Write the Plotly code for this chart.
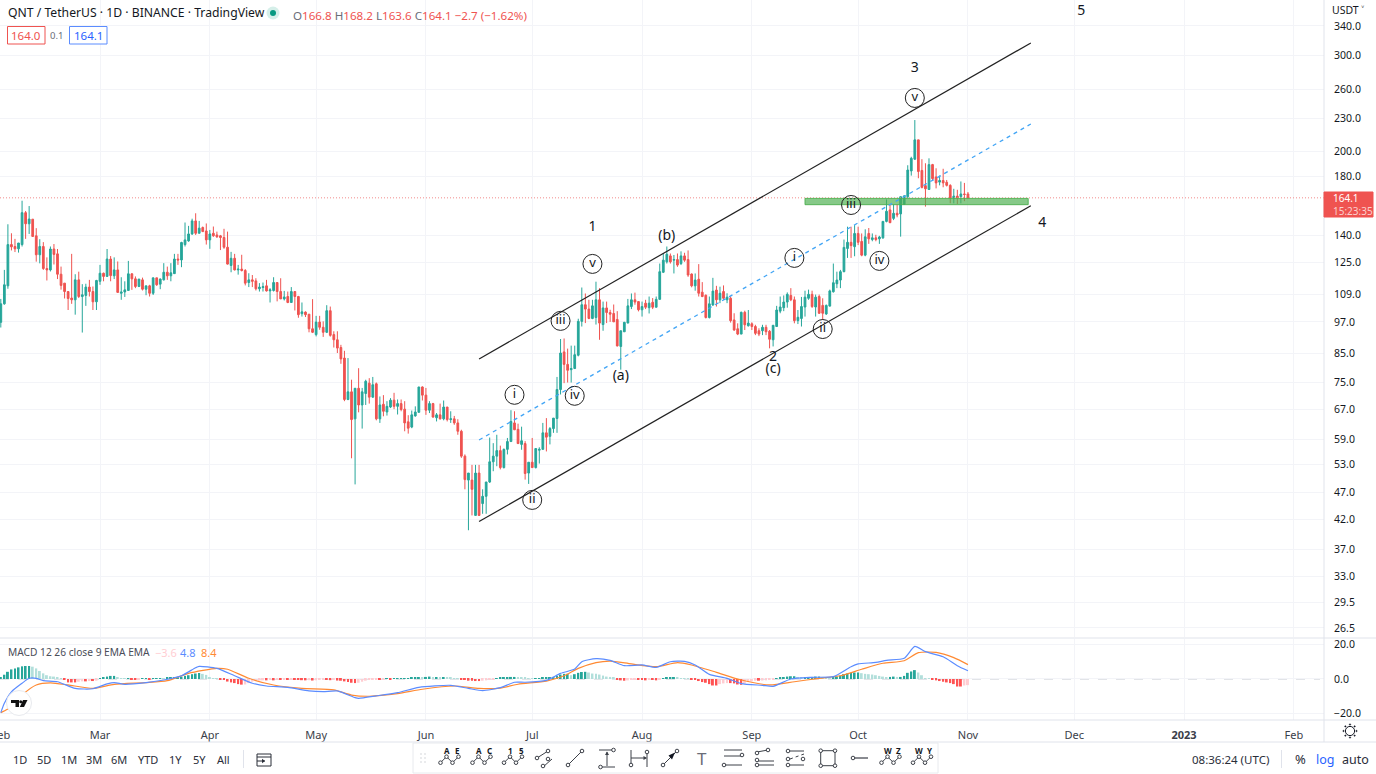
import pandas as pd
import plotly.graph_objects as go

opens = [
 96.8,104.7,113.0,134.6,133.5,132.2,134.6,154.1,147.0,149.9,139.7,128.9,133.5,121.6,120.9,132.1,129.4,118.7,114.3,110.3,107.3,106.5,115.9,108.0,108.5,112.4,110.3,105.6,
 115.2,119.2,117.6,126.6,117.9,120.9,109.5,110.1,110.8,118.9,116.4,112.7,115.9,111.4,113.0,109.5,116.9,113.8,115.9,119.7,117.9,119.0,126.6,126.1,134.6,136.7,140.8,148.8,141.2,144.7,142.6,
 137.3,141.2,140.2,139.7,138.7,133.1,123.2,127.0,120.9,121.3,120.6,114.6,115.9,115.4,111.6,112.2,113.0,110.6,110.8,114.6,110.3,106.9,108.0,105.3,110.3,108.0,100.4,101.1,100.2,94.2,
 91.9,96.9,94.8,92.8,101.7,91.9,89.9,87.0,83.2,69.8,72.1,64.3,73.2,68.2,71.6,74.8,70.5,74.6,64.3,68.4,66.2,67.6,69.6,67.8,68.6,67.0,63.5,62.1,65.1,66.1,73.6,
 71.1,66.7,68.6,64.6,65.4,64.3,67.6,64.1,64.3,63.2,61.0,54.9,49.6,49.6,42.7,51.1,44.9,46.3,49.2,53.6,54.9,56.2,52.3,56.5,58.4,63.2,61.5,57.7,57.9,51.1,
 53.5,52.3,56.3,56.5,60.6,59.7,61.7,64.4,72.8,85.4,81.0,79.2,79.6,84.2,97.2,104.3,102.4,98.4,98.8,106.5,95.9,102.9,100.9,100.5,98.0,87.4,93.0,96.5,103.5,106.5,105.7,
 102.1,105.0,103.0,105.4,103.2,106.7,119.7,125.1,128.3,126.0,126.3,124.2,128.3,126.3,118.8,113.0,116.2,110.0,108.6,98.8,104.2,111.0,106.5,110.3,106.5,107.2,97.8,94.2,92.1,101.0,95.4,
 96.2,95.1,93.4,93.4,94.8,93.2,89.9,95.1,101.5,103.0,105.5,108.5,106.5,97.5,98.4,103.3,107.2,109.0,103.3,108.0,104.0,100.3,103.7,110.2,114.0,115.8,120.0,132.4,135.9,133.4,
 141.1,136.4,128.7,141.1,137.5,138.5,137.9,138.5,148.5,155.9,150.4,153.7,153.3,159.6,164.9,183.9,193.3,209.8,184.3,172.8,170.0,188.9,179.3,175.4,176.6,175.3,173.0,163.9,165.3,164.9,166.8,
 166.8]
highs = [
 106.9,120.9,146.7,141.2,137.9,135.5,162.1,155.2,158.5,149.9,144.3,137.7,136.0,127.5,133.5,134.9,132.1,122.6,114.3,110.3,129.4,118.7,120.0,113.8,114.0,115.9,112.7,115.9,
 123.5,119.5,132.1,128.2,127.5,125.3,117.2,115.2,125.6,119.2,117.6,116.3,117.0,113.0,113.5,116.9,116.9,116.6,124.4,122.6,124.4,129.4,129.4,136.2,147.8,145.7,150.2,153.7,148.8,145.3,147.2,
 143.2,145.3,142.2,140.2,143.9,142.2,130.5,129.4,123.5,128.9,121.3,119.2,118.3,116.7,114.3,114.6,115.9,111.9,117.2,114.6,116.7,110.6,110.3,112.4,110.3,108.3,105.3,101.4,100.2,106.8,
 99.5,99.5,97.2,104.1,103.5,93.2,93.2,88.0,85.8,83.2,75.9,73.2,79.7,73.3,75.9,76.4,76.8,75.0,70.7,71.1,69.3,70.2,71.8,69.8,69.8,69.3,65.3,66.6,67.8,73.6,73.8,
 73.3,69.3,68.8,65.9,68.6,69.5,67.6,66.4,65.1,64.2,61.4,55.3,51.1,52.9,52.9,52.9,47.7,49.2,59.4,58.0,60.1,57.4,56.7,59.3,66.7,66.4,63.0,62.2,58.5,53.5,
 59.3,56.7,57.0,63.2,64.5,62.1,64.5,76.8,90.2,90.4,86.6,87.7,87.7,98.3,112.2,109.4,106.5,106.5,115.0,111.9,105.7,105.7,102.1,104.4,101.5,93.4,97.0,106.9,109.4,109.8,105.7,
 105.7,106.5,108.0,107.3,108.0,124.2,129.6,133.5,129.6,128.8,129.6,130.8,130.0,131.3,119.1,119.1,123.9,114.8,108.9,108.0,116.9,113.0,112.6,113.2,109.5,108.0,100.6,96.4,101.3,101.7,102.0,
 96.8,95.8,94.4,95.8,95.8,93.7,95.6,103.8,108.0,108.5,109.9,111.9,108.0,102.0,107.8,110.7,111.2,110.7,108.9,108.9,107.2,104.4,111.2,124.2,120.0,120.9,137.5,145.2,145.2,146.2,
 145.2,141.1,143.6,144.4,141.1,140.3,139.7,148.5,163.0,159.6,159.6,159.6,164.9,166.0,188.4,195.3,228.2,209.8,193.3,190.0,194.0,189.5,186.0,180.3,185.6,177.0,173.8,170.5,169.8,175.9,174.8,
 168.2]
lows = [
 94.7,104.3,111.6,131.3,130.4,130.1,133.5,137.9,140.8,139.3,125.2,124.3,120.9,115.6,120.1,123.7,116.3,111.2,107.1,102.0,104.7,100.0,107.3,92.7,103.8,108.0,102.0,102.0,
 113.5,115.2,117.6,115.2,116.3,109.9,106.5,107.8,110.8,111.1,111.9,112.4,110.8,108.6,108.0,108.7,113.0,111.4,115.6,115.9,115.2,119.0,123.5,122.3,133.5,136.2,140.2,140.2,141.2,142.2,134.6,
 132.2,139.1,138.5,131.5,132.2,123.7,119.7,120.6,118.5,120.1,113.2,112.4,112.4,110.8,110.3,110.3,110.3,105.3,110.3,105.8,106.9,106.2,105.0,105.3,101.8,98.7,99.2,99.0,92.8,92.5,
 91.2,93.8,91.0,92.5,91.1,87.0,85.0,81.2,69.3,69.6,54.4,48.7,66.1,61.7,68.2,68.6,70.3,63.9,63.2,65.0,65.2,67.3,67.0,65.5,66.4,61.0,60.4,61.8,64.9,66.1,69.5,
 65.4,65.9,64.6,63.6,64.1,63.9,63.6,63.2,62.7,60.1,54.5,47.7,40.1,42.7,42.6,42.6,43.0,43.0,49.0,51.5,52.6,51.9,52.1,55.3,58.4,61.3,57.8,56.4,49.7,48.8,
 52.3,52.1,53.2,56.5,56.0,57.7,60.6,60.6,71.3,74.8,75.0,75.0,79.4,83.8,95.1,96.5,98.1,98.1,95.9,89.9,93.4,96.5,97.0,97.0,87.4,79.2,93.0,96.5,102.4,104.3,101.4,
 99.2,102.4,100.5,102.4,103.2,106.7,119.3,124.2,124.2,119.1,122.5,123.4,125.1,117.4,112.3,110.7,108.0,107.7,98.4,98.4,103.8,103.5,105.0,106.5,105.0,96.7,93.4,91.7,92.1,93.7,95.1,
 93.7,91.7,91.3,91.7,91.7,86.7,87.4,95.1,100.6,101.5,103.0,105.9,96.4,96.1,95.1,99.2,106.5,102.9,99.2,100.3,97.8,99.9,103.5,109.8,111.9,111.9,119.7,127.2,127.2,128.1,
 134.3,128.1,128.1,135.0,136.5,136.5,135.0,137.9,147.9,147.4,149.3,151.1,139.2,159.6,163.9,180.3,192.7,178.3,170.8,158.1,170.0,176.8,170.8,173.0,171.6,172.2,160.4,160.3,159.9,160.3,161.8,
 163.6]
closes = [
 104.7,113.5,134.6,133.3,132.2,135.5,154.1,147.0,150.0,139.3,128.9,133.5,121.6,120.9,132.1,129.1,118.7,113.2,110.3,107.1,106.5,115.9,108.0,108.8,112.4,110.3,105.6,115.6,
 119.2,117.6,126.6,118.0,120.9,109.9,110.1,111.1,118.9,116.4,112.7,116.3,111.4,113.0,109.5,116.9,113.5,116.3,119.7,117.9,119.4,126.6,126.1,135.8,137.3,140.8,148.8,141.2,144.3,142.2,137.3,
 140.8,139.7,139.1,138.7,133.1,123.9,127.0,120.9,121.3,120.6,114.3,115.9,115.2,111.6,112.4,112.6,110.6,111.1,114.6,110.3,106.9,107.8,105.3,110.3,108.0,100.0,101.2,100.0,94.2,92.8,
 96.9,94.8,92.8,101.7,91.6,89.9,86.8,82.9,69.8,72.1,64.1,73.2,68.2,72.1,75.4,70.5,74.3,64.3,68.2,66.4,67.8,69.6,67.8,68.6,66.9,63.2,61.8,65.4,66.2,73.6,71.1,
 66.7,68.6,64.8,65.4,64.3,67.6,64.1,64.3,63.2,61.0,54.9,49.7,51.1,47.7,51.1,42.7,46.3,49.2,53.6,54.9,56.2,52.3,56.5,58.4,63.6,61.4,57.9,58.6,51.0,53.5,
 52.3,56.7,56.5,60.6,59.5,61.7,64.5,72.8,85.0,81.0,79.0,79.6,84.4,97.2,104.3,102.4,98.4,103.8,106.5,96.5,102.9,100.9,100.2,97.0,87.6,93.4,96.8,103.8,106.5,105.5,102.1,
 103.5,103.2,105.0,103.2,106.7,120.0,126.0,129.2,125.1,126.3,123.4,128.3,126.0,118.3,113.0,115.8,109.5,108.0,98.8,104.7,110.5,106.5,109.5,107.2,107.7,97.5,93.7,92.1,101.0,95.8,96.5,
 95.1,92.4,92.1,94.8,93.0,90.1,95.6,102.0,103.3,105.5,109.0,106.5,97.5,98.9,103.5,107.7,109.0,103.5,107.7,100.6,100.6,104.0,110.6,114.5,115.8,120.0,133.0,135.9,134.0,141.1,
 135.9,128.7,139.1,137.9,138.5,137.5,139.0,148.5,155.0,147.7,153.7,152.6,164.9,165.4,184.6,194.0,209.8,183.5,171.5,170.5,188.9,178.0,174.8,176.6,174.8,173.0,163.9,165.3,163.9,166.8,166.5,
 164.1]
hist = [
 1.0,2.5,4.2,5.6,6.2,6.8,7.4,7.6,7.6,7.2,6.2,4.7,3.3,2.2,1.6,1.4,1.0,0.4,-0.3,-2.0,-2.0,-2.0,-1.6,-1.4,-1.4,-1.2,-1.2,-1.0,
 0.2,0.8,1.4,1.8,1.8,1.0,0.4,0.1,0.1,-0.1,-0.2,-0.1,0.1,0.2,-0.1,0.1,0.3,0.5,0.4,0.6,0.8,1.0,1.2,1.4,1.8,2.2,2.8,3.2,3.5,3.0,2.4,
 1.0,0.5,0.1,-0.2,-0.6,-1.5,-2.0,-2.4,-3.0,-3.3,-3.2,-2.4,-1.6,-1.2,-0.9,-0.8,-0.8,-0.6,-0.8,-0.6,-0.6,-0.5,-0.5,-0.4,-0.5,-0.6,-0.7,-0.8,-0.7,-0.9,
 -0.8,-0.6,-0.5,-0.5,-0.7,-0.6,-0.9,-1.0,-1.4,-1.8,-2.2,-2.4,-2.2,-1.6,-1.0,-0.6,-0.5,-0.4,-0.6,-0.4,0.2,-0.2,0.1,0.2,0.2,0.3,0.5,0.6,0.7,0.9,0.8,
 1.2,1.4,1.0,1.0,0.8,0.8,0.7,0.6,0.5,0.1,-0.3,-0.6,-1.0,-1.0,-1.2,-1.2,-1.0,-0.8,-0.5,-0.2,0.4,0.7,1.0,1.1,1.2,1.2,1.0,0.9,0.7,0.3,
 0.2,0.4,0.5,0.7,0.8,1.0,1.2,1.8,2.6,3.0,3.0,2.2,2.8,3.6,4.1,4.2,3.8,3.2,3.0,2.6,2.0,1.4,1.2,0.6,-0.2,-0.8,-1.0,-0.8,-0.6,-0.4,-0.4,
 -0.6,-0.8,-0.6,-0.6,-0.8,-0.2,0.4,0.8,1.0,1.0,0.6,0.5,0.2,0.1,-0.2,-0.6,-1.2,-1.8,-2.2,-3.0,-3.8,-3.8,-3.0,-2.6,-2.4,-2.4,-2.6,-3.2,-3.4,-2.8,-1.6,
 -1.4,-1.0,-1.0,-0.9,-0.8,-0.6,-0.4,0.2,0.6,1.0,1.4,1.6,1.6,1.2,1.0,1.0,1.0,1.2,1.4,1.4,1.2,1.0,0.8,1.0,1.4,2.0,2.8,3.2,3.6,3.8,
 3.8,3.4,3.0,2.8,2.6,2.2,1.8,1.4,1.0,1.2,1.4,1.2,1.2,1.8,3.6,4.4,5.2,3.8,2.2,0.2,0.1,-0.4,-0.8,-1.2,-1.6,-2.0,-2.4,-3.0,-4.4,-4.4,-3.8,
 -3.6]

macd_dates = ["2022-02-01","2022-02-02","2022-02-04","2022-02-07","2022-02-09","2022-02-11","2022-02-13","2022-02-17","2022-02-22","2022-02-27","2022-03-03","2022-03-05","2022-03-08","2022-03-14","2022-03-19","2022-03-24","2022-03-28","2022-03-29","2022-04-03","2022-04-08","2022-04-13","2022-04-17","2022-04-23","2022-04-29","2022-05-03","2022-05-07","2022-05-12","2022-05-13","2022-05-18","2022-05-24","2022-05-30","2022-06-08","2022-06-13","2022-06-17","2022-06-22","2022-06-26","2022-06-29","2022-07-05","2022-07-09","2022-07-13","2022-07-15","2022-07-19","2022-07-23","2022-07-27","2022-08-01","2022-08-05","2022-08-09","2022-08-13","2022-08-16","2022-08-20","2022-08-25","2022-08-29","2022-09-04","2022-09-07","2022-09-12","2022-09-18","2022-09-24","2022-09-29","2022-10-01","2022-10-06","2022-10-09","2022-10-14","2022-10-17","2022-10-20","2022-10-25","2022-10-29","2022-11-01"]
macd_vals = [-19.7,-14.2,-7.5,-2.5,0.4,0.4,-1.0,-1.6,-5.5,-5.7,-2.9,-2.1,-3.1,-2.1,-0.6,1.9,6.6,7.4,6.2,1.9,-2.5,-4.1,-4.9,-7.0,-7.4,-7.0,-10.9,-11.3,-9.9,-8.0,-4.9,-3.7,-5.5,-6.8,-5.1,-1.9,-1.9,-0.8,3.3,5.8,10.1,11.9,10.9,7.8,8.2,6.8,10.1,10.3,8.2,2.7,0.4,-2.7,-3.7,-4.3,0.0,1.0,1.4,7.2,8.8,9.7,10.9,12.1,19.1,16.0,13.0,7.8,4.8]
signal_dates = ["2022-02-01","2022-02-04","2022-02-07","2022-02-11","2022-02-15","2022-02-20","2022-02-27","2022-03-05","2022-03-14","2022-03-20","2022-03-26","2022-04-03","2022-04-06","2022-04-12","2022-04-19","2022-04-27","2022-05-06","2022-05-11","2022-05-16","2022-05-24","2022-05-31","2022-06-09","2022-06-16","2022-06-22","2022-06-27","2022-07-05","2022-07-10","2022-07-14","2022-07-19","2022-07-23","2022-07-29","2022-08-05","2022-08-11","2022-08-15","2022-08-22","2022-08-29","2022-09-06","2022-09-13","2022-09-20","2022-09-26","2022-10-02","2022-10-08","2022-10-14","2022-10-18","2022-10-23","2022-10-28","2022-11-01"]
signal_vals = [-19.7,-16.2,-9.4,-3.5,-2.3,-3.5,-5.5,-3.1,-2.1,-1.0,3.3,6.2,5.7,0.4,-3.5,-5.5,-6.4,-9.4,-10.1,-8.6,-6.0,-4.1,-5.5,-5.3,-3.1,-1.2,1.9,6.2,9.6,10.5,8.8,7.2,9.6,8.2,3.9,-0.6,-3.5,-1.6,0.4,1.9,5.7,9.2,10.7,15.4,15.6,12.5,8.4]

price_ticks = [340,300,260,230,200,180,140,125,109,97,85,75,67,59,53,47,42,37,33,29.5,26.5]
macd_ticks = [-20,0,20]
month_ticks = ["2022-02-01","2022-03-01","2022-04-01","2022-05-01","2022-06-01","2022-07-01","2022-08-01","2022-09-01","2022-10-01","2022-11-01","2022-12-01","2023-01-01","2023-02-01"]
month_labels = ["Feb","Mar","Apr","May","Jun","Jul","Aug","Sep","Oct","Nov","Dec","<b>2023</b>","Feb"]

circle_dates = ["2022-06-26","2022-07-01","2022-07-09","2022-07-13","2022-07-18","2022-09-13","2022-09-21","2022-09-29","2022-10-07","2022-10-17"]
circle_prices = [71.2,45.6,97.4,70.9,124.0,127.2,94.1,159.2,125.6,250.6]
circle_text = ["i","ii","iii","iv","v","i","ii","iii","iv","v"]
label_dates = ["2022-07-26","2022-08-08","2022-09-07","2022-09-07","2022-07-18","2022-10-17","2022-11-22","2022-12-03"]
label_prices = [76.9,139.0,79.1,83.3,145.0,283.4,147.4,361.5]
label_text = ["(a)","(b)","(c)","2","1","3","4","5"]
channel_dates = ["2022-06-16","2022-11-18 18:00"]
upper_prices = [82.9,316.4]
middle_prices = [58.8,224.4]
lower_prices = [41.6,158.7]
band_dates = ["2022-09-16","2022-11-18","2022-11-18","2022-09-16","2022-09-16"]
band_prices = [159.4,159.4,163.7,163.7,159.4]
last_price = 164.1

dates = pd.date_range("2022-02-01", periods=len(closes))
assert len(opens) == len(highs) == len(lows) == len(closes) == len(hist) == 274

FONT = "Noto Sans"
INK = "#131722"
UP, DOWN = "#26a69a", "#ef5350"
W, H = 1376, 774
RANGE_X = ["2022-01-31 18:30", "2023-02-09 12:00"]

fig = go.Figure()
fig.add_trace(go.Scatter(x=RANGE_X, y=[last_price]*2, mode="lines", line=dict(color="#f28b8b", width=1, dash="1px,2px"), hoverinfo="skip"))
fig.add_trace(go.Candlestick(x=dates, open=opens, high=highs, low=lows, close=closes,
    increasing=dict(line=dict(color=UP, width=1), fillcolor=UP),
    decreasing=dict(line=dict(color=DOWN, width=1), fillcolor=DOWN), whiskerwidth=0))
fig.add_trace(go.Scatter(x=band_dates, y=band_prices, mode="lines", fill="toself", fillcolor="rgba(76,175,80,0.68)", line=dict(color="rgba(76,175,80,0.9)", width=1)))
for ys in (upper_prices, lower_prices):
    fig.add_trace(go.Scatter(x=channel_dates, y=ys, mode="lines", line=dict(color="#222222", width=1.2)))
fig.add_trace(go.Scatter(x=channel_dates, y=middle_prices, mode="lines", line=dict(color="#42a5f5", width=1.3, dash="4px,4px")))
fig.add_trace(go.Scatter(x=circle_dates, y=circle_prices, mode="markers+text", text=circle_text, textposition="middle center",
    textfont=dict(family=FONT, size=13, color=INK),
    marker=dict(size=19, color="rgba(0,0,0,0)", line=dict(color="#222222", width=1))))
fig.add_trace(go.Scatter(x=label_dates, y=label_prices, mode="text", text=label_text, textposition="middle center",
    textfont=dict(family=FONT, size=14, color=INK)))

def hist_color(i):
    v = hist[i]
    prev = hist[i-1] if i else 0
    if v >= 0:
        return "#26a69a" if v >= prev else "#b2dfdb"
    return "#ff5252" if v <= prev else "#ffcdd2"

fig.add_trace(go.Bar(x=dates, y=hist, xaxis="x2", yaxis="y2", width=48000000, marker=dict(color=[hist_color(i) for i in range(len(hist))], line=dict(width=0))))
fig.add_trace(go.Scatter(x=signal_dates, y=signal_vals, xaxis="x2", yaxis="y2", mode="lines", line=dict(color="#ff8a33", width=1.2, shape="spline", smoothing=0.6)))
fig.add_trace(go.Scatter(x=macd_dates, y=macd_vals, xaxis="x2", yaxis="y2", mode="lines", line=dict(color="#5b8cff", width=1.2, shape="spline", smoothing=0.6)))

def px(x): return x / W
def py(y): return 1 - y / H

annotations, shapes = [], []

def text(t, x, y, size=12, color=INK, anchor="left", bold=False):
    annotations.append(dict(text=f"<b>{t}</b>" if bold else t, x=px(x), y=py(y), xref="paper", yref="paper", xanchor=anchor, yanchor="middle",
        showarrow=False, font=dict(family=FONT, size=size, color=color), borderpad=0, borderwidth=0))

def line(x0, y0, x1, y1, color="#3c4048", width=1, dash=None):
    ln = dict(color=color, width=width)
    if dash: ln["dash"] = dash
    shapes.append(dict(type="line", xref="paper", yref="paper", x0=px(x0), y0=py(y0), x1=px(x1), y1=py(y1), line=ln))

def rect(x0, y0, x1, y1, fill="rgba(0,0,0,0)", color="rgba(0,0,0,0)", width=1):
    shapes.append(dict(type="rect", xref="paper", yref="paper", x0=px(x0), y0=py(y0), x1=px(x1), y1=py(y1), fillcolor=fill, line=dict(color=color, width=width)))

def dot(x, y, r=1.8, fill="white", color="#3c4048", width=1):
    shapes.append(dict(type="circle", xref="paper", yref="paper", x0=px(x-r), y0=py(y-r), x1=px(x+r), y1=py(y+r), fillcolor=fill, line=dict(color=color, width=width)))

def poly(points, fill=INK):
    d = "M" + " L".join(f"{px(x):.5f},{py(y):.5f}" for x, y in points) + " Z"
    shapes.append(dict(type="path", xref="paper", yref="paper", path=d, fillcolor=fill, line=dict(width=0)))

BORDER = "#e0e3eb"
line(1324, 0, 1324, 742, BORDER)
line(0, 638, 1376, 638, BORDER)
line(0, 720, 1376, 720, BORDER)
line(0, 742, 1376, 742, BORDER)
shapes.append(dict(type="line", xref="paper", yref="y2", x0=0, x1=px(1320), y0=0, y1=0, line=dict(color="#c4c7cf", width=1, dash="dash"), layer="below"))

# header
text("QNT / TetherUS · 1D · BINANCE · TradingView", 8, 13, 12.2, INK)
dot(273, 13, 6.5, "#d5efe9", "rgba(0,0,0,0)", 0)
dot(273, 13, 3, "#089981", "rgba(0,0,0,0)", 0)
R = '<span style="color:#ef5350">'
G = '<span style="color:#6a6d78">'
text(f"{G}O</span>{R}166.8</span> {G}H</span>{R}168.2</span> {G}L</span>{R}163.6</span> {G}C</span>{R}164.1 −2.7 (−1.62%)</span>", 293, 15, 11.6)
rect(7.5, 26.5, 45, 44, "white", "#ef5350")
text("164.0", 26, 35, 11.5, "#ef5350", "center")
text("0.1", 57, 36, 9.5, "#6a6d78", "center")
rect(69.5, 26.5, 107, 44, "white", "#5b8cff")
text("164.1", 88, 35, 11.5, "#2962ff", "center")
text("USDT ˅", 1332, 10, 10.5, INK)

# price badge
rect(1324, 192, 1373, 217, DOWN, DOWN)
text("164.1", 1333, 198.5, 10, "white")
text("15:23:35", 1333, 210.5, 10, "#fbd0ce")

# MACD legend
text("MACD 12 26 close 9 EMA EMA", 8, 652, 10.2, "#4a4e59")
text("−3.6", 155, 652, 11, "#ffcdd2")
text("4.8", 180, 652, 11, "#5b8cff")
text("8.4", 201, 652, 11, "#ff8a33")

# TV logo
dot(19, 703, 12.5, "white", "#e8eaee", 1)
poly([(11, 700), (19, 700), (19, 707), (15.5, 707), (15.5, 703), (11, 703)], "#111111")
dot(20.7, 701.7, 1.5, "#111111", "rgba(0,0,0,0)", 0)
poly([(23, 700), (27.5, 700), (24, 707), (19.8, 707)], "#111111")

# gear
dot(1350, 731, 4.6, "white", "#131722", 1)
for dx, dy in [(0, -6.5), (0, 6.5), (-6.5, 0), (6.5, 0), (-4.6, -4.6), (4.6, 4.6), (-4.6, 4.6), (4.6, -4.6)]:
    dot(1350 + dx, 731 + dy, 0.7, "#131722", "#131722", 0.5)

# bottom left range buttons
for label, x in zip(["1D","5D","1M","3M","6M","YTD","1Y","5Y","All"], [20,44,69,94,119,148,175,199,223]):
    text(label, x, 759, 11, "#2a2e39", "center")
line(243.5, 750, 243.5, 768, BORDER)
rect(257, 754, 271, 766, "white", "#2a2e39")
line(257, 757, 271, 757, "#2a2e39")
line(257, 761, 265, 761, "#2a2e39")
poly([(265, 761), (262, 758.8), (262, 763.2)], "#2a2e39")
text("08:36:24 (UTC)", 1230, 759, 11.5, "#2a2e39", "center")
line(1281.5, 750, 1281.5, 768, BORDER)
text("%", 1300, 759, 13, "#2a2e39", "center")
text("log", 1325, 759, 12.5, "#2962ff", "center")
text("auto", 1355, 759, 12.5, "#2a2e39", "center")

# drawing toolbar
shapes.append(dict(type="rect", xref="paper", yref="paper", x0=px(413), y0=py(743), x1=px(938), y1=py(773), fillcolor="white", line=dict(color="#e8eaee", width=1)))
for xx in (421, 425):
    for yy in (754, 758, 762):
        dot(xx, yy, 0.7, "#c6c8ce", "rgba(0,0,0,0)", 0)

def wave(cx, left, right):
    pts = [(cx-9, 762.7), (cx-3, 756.7), (cx+3, 762.7), (cx+9, 756.7)]
    for a, b in zip(pts, pts[1:]):
        line(a[0], a[1], b[0], b[1])
    for p in pts:
        dot(p[0], p[1])
    text(left, cx-3, 750, 8, "#131722", "center", True)
    text(right, cx+8, 750, 8, "#131722", "center", True)

wave(449.5, "A", "E")
wave(481.5, "A", "C")
wave(513, "1", "5")
wave(890.5, "W", "Z")
wave(922, "W", "Y")

line(537, 758, 548, 751); dot(537, 758); dot(548, 751)
line(543, 767, 552, 759); dot(543, 766); dot(548, 759)
line(568, 765, 582, 751); dot(568, 765); dot(582, 751)
line(599, 750, 613, 750); line(600, 767, 615, 767); line(607, 752, 607, 766); dot(613.5, 750); dot(600.5, 767)
poly([(607, 751.5), (605, 755), (609, 755)], "#3c4048")
line(631, 750, 631, 767); line(647, 750, 647, 767); line(631, 758, 646, 758); dot(631, 765); dot(647, 752)
poly([(647, 758), (643.5, 756), (643.5, 760)], "#3c4048")
line(663, 765, 677, 751); dot(663, 765); dot(677, 751)
poly([(675, 752.5), (668.5, 755.5), (672, 759.5)], "#131722")
text("T", 702, 758, 17, "#6a6d78", "center")
line(724, 750, 742, 750); line(724, 756, 742, 756); line(724, 765, 742, 765); dot(742, 755); dot(724, 765)
line(757, 752, 768, 750); line(757, 761, 774, 761); line(757, 765, 774, 765); dot(757, 753); dot(768, 750); dot(757, 760); dot(757, 765)
line(788, 751, 804, 751); line(790, 759, 804, 754, dash="dot"); line(788, 765, 804, 765); dot(788, 751); dot(788, 759); dot(803, 759); dot(788, 765)
rect(820.7, 750.7, 835, 765.7, "rgba(0,0,0,0)", "#3c4048")
for xx, yy in [(820.7, 750.7), (835, 750.7), (820.7, 765.7), (835, 765.7)]:
    dot(xx, yy)
line(853, 758, 868, 758, "#131722"); dot(853, 758)

fig.update_layout(
    width=W, height=H, autosize=False, margin=dict(l=0, r=0, t=0, b=0, autoexpand=False), showlegend=False,
    paper_bgcolor="white", plot_bgcolor="white", barmode="overlay",
    font=dict(family=FONT, size=11, color=INK), annotations=annotations, shapes=shapes, hovermode=False,
    xaxis=dict(domain=[0, 1324/W], anchor="y", type="date", range=RANGE_X, rangeslider=dict(visible=False),
        tickmode="array", tickvals=month_ticks, showticklabels=False, showgrid=True, gridcolor="#f3f4f8", zeroline=False, showline=False, ticks=""),
    yaxis=dict(domain=[1-637/H, 1], anchor="x", side="right", type="log", range=[1.4066, 2.5793],
        tickmode="array", tickvals=price_ticks, ticktext=[f"{v:.1f}" for v in price_ticks],
        tickfont=dict(family=FONT, size=10.5, color=INK), showgrid=True, gridcolor="#f3f4f8", zeroline=False, showline=False,
        ticks="outside", ticklen=7, tickcolor="rgba(0,0,0,0)"),
    xaxis2=dict(domain=[0, 1324/W], anchor="y2", type="date", range=RANGE_X, ticklabeloverflow="allow",
        tickmode="array", tickvals=month_ticks, ticktext=month_labels, tickangle=0, tickfont=dict(family=FONT, size=11, color="#3a3e49"),
        showgrid=True, gridcolor="#f3f4f8", zeroline=False, showline=False, ticks="outside", ticklen=5, tickcolor="rgba(0,0,0,0)"),
    yaxis2=dict(domain=[1-720/H, 1-639/H], anchor="x2", side="right", range=[-24.0, 23.4],
        tickmode="array", tickvals=macd_ticks, ticktext=["−20.0", "0.0", "20.0"],
        tickfont=dict(family=FONT, size=10.5, color=INK), showgrid=True, gridcolor="#f3f4f8", zeroline=False, showline=False,
        ticks="outside", ticklen=7, tickcolor="rgba(0,0,0,0)"),
)

fig.write_html("out.html", config=dict(displayModeBar=False),
    post_script="document.body.style.margin='0';document.documentElement.style.overflow='hidden';")
